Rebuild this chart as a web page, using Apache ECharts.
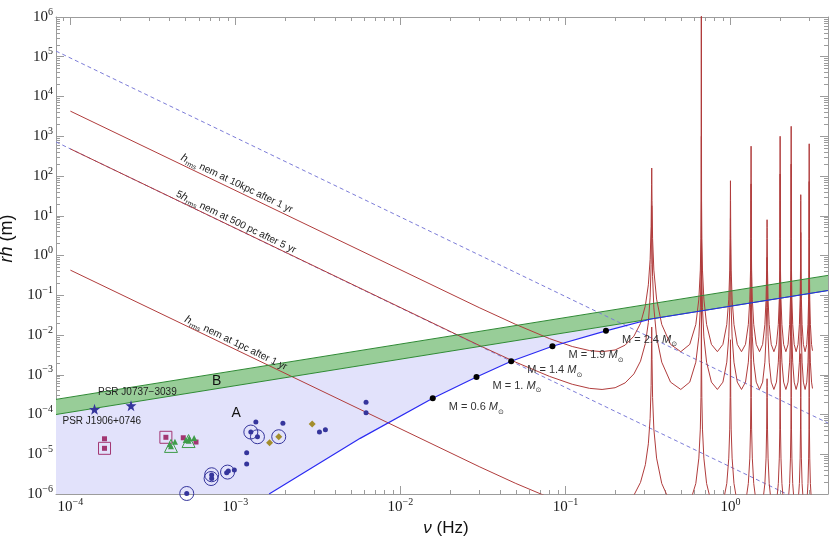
<!DOCTYPE html>
<html><head><meta charset="utf-8">
<script src="https://cdn.jsdelivr.net/npm/echarts@6/dist/echarts.min.js"></script>
<style>html,body{margin:0;padding:0;background:#fff}#c{width:830px;height:539px}</style>
</head><body><div id="c"></div>
<script>
// ---------- axis ranges & ticks ----------
const X_MIN = 8.18e-5, X_MAX = 3.9, Y_MIN = 1e-6, Y_MAX = 1e6;
const xMajor = [1e-4, 1e-3, 1e-2, 1e-1, 1];
const yMajor = [1e-6, 1e-5, 1e-4, 1e-3, 1e-2, 1e-1, 1, 10, 100, 1e3, 1e4, 1e5, 1e6];
const xMinor = [];
for (let k = -5; k <= 0; k++) for (let m = 2; m <= 9; m++) { const v = m * Math.pow(10, k); if (v > X_MIN && v < X_MAX) xMinor.push(v); }
const yMinor = [];
for (let k = -6; k < 6; k++) for (let m = 2; m <= 9; m++) yMinor.push(m * Math.pow(10, k));

// ---------- green band (B) edges ----------
const bandF = [8.18e-5, 3.9];
const bandLow = [1.0e-4, 0.1315];
const bandHigh = [2.4e-4, 0.316];

// ---------- blue boundary curve of region A ----------
const blueF = [1.6e-3, 5.70e-3, 1.57e-2, 2.89e-2, 4.69e-2, 8.34e-2, 0.176, 0.33, 3.9];
const blueRh = [1.0e-6, 2.51e-5, 2.56e-4, 8.81e-4, 2.19e-3, 5.22e-3, 1.27e-2, 2.53e-2, 0.1315];

// ---------- mass points on blue curve ----------
const massF = [1.57e-2, 2.89e-2, 4.69e-2, 8.34e-2, 0.176];
const massRh = [2.56e-4, 8.81e-4, 2.19e-3, 5.22e-3, 1.27e-2];
const massLabels = ['0.6', '1.', '1.4', '1.9', '2.4'];

// ---------- dashed blue lines ----------
const dash1F = [8.18e-5, 3.9], dash1Rh = [1.39e5, 6.1e-5];
const dash2F = [8.18e-5, 3.9], dash2Rh = [719, 3.16e-7];

// ---------- red sensitivity curves ----------
const redF = [
  1e-4, 0.03, 0.05, 0.08, 0.11, 0.14, 0.16667, 0.20, 0.23, 0.26, 0.285, 0.305, 0.318, 0.326, 0.3305, 0.3325, 0.333333,
  0.334667, 0.337333, 0.343333, 0.356667, 0.383333, 0.433333, 0.5, 0.566667, 0.616667, 0.643333, 0.656667, 0.662667, 0.665333, 0.666667,
  0.668, 0.670667, 0.676667, 0.69, 0.716667, 0.766667, 0.833333, 0.9, 0.95, 0.976667, 0.99, 0.996, 0.998667, 1.0,
  1.001333, 1.004, 1.01, 1.023333, 1.05, 1.1, 1.166667, 1.233333, 1.283333, 1.31, 1.323333, 1.329333, 1.332, 1.333333,
  1.334667, 1.337333, 1.343333, 1.356667, 1.383333, 1.433333, 1.5, 1.566667, 1.616667, 1.643333, 1.656667, 1.662667, 1.665333, 1.666667,
  1.668, 1.670667, 1.676667, 1.69, 1.716667, 1.766667, 1.833333, 1.9, 1.95, 1.976667, 1.99, 1.996, 1.998667, 2.0,
  2.001333, 2.004, 2.01, 2.023333, 2.05, 2.1, 2.166667, 2.233333, 2.283333, 2.31, 2.323333, 2.329333, 2.332, 2.333333,
  2.334667, 2.337333, 2.343333, 2.356667, 2.383333, 2.433333, 2.5, 2.566667, 2.616667, 2.643333, 2.656667, 2.662667, 2.665333, 2.666667,
  2.668, 2.670667, 2.676667, 2.69, 2.716667, 2.766667, 2.833333, 2.9, 2.95, 2.976667, 2.99, 2.996, 2.998667, 3.0,
  3.001333, 3.004, 3.01, 3.023333, 3.05, 3.1, 3.141593
];
// h_rms at 10 kpc after 1 yr
const red10kpc = [
  4281, 0.04887, 0.01845, 0.008115, 0.005131, 0.004053, 0.003802, 0.004204, 0.005558, 0.009359, 0.01960, 0.05461, 0.1830, 0.7970, 5.333, 61.63, 158.5,
  24.07, 2.677, 0.4293, 0.07989, 0.01845, 0.005808, 0.003802, 0.005808, 0.01845, 0.07989, 0.4293, 2.677, 24.07, 1e7,
  24.07, 2.677, 0.4293, 0.07989, 0.01845, 0.005808, 0.003802, 0.005808, 0.01845, 0.07989, 0.4293, 2.677, 24.07, 75.9,
  24.07, 2.677, 0.4293, 0.07989, 0.01845, 0.005808, 0.003802, 0.005808, 0.01845, 0.07989, 0.4293, 2.677, 24.07, 562,
  24.07, 2.677, 0.4293, 0.07989, 0.01845, 0.005808, 0.003802, 0.005808, 0.01845, 0.07989, 0.4293, 2.677, 5.0, 7.94,
  5.0, 2.677, 0.4293, 0.07989, 0.01845, 0.005808, 0.003802, 0.005808, 0.01845, 0.07989, 0.4293, 2.677, 24.07, 1000,
  24.07, 2.677, 0.4293, 0.07989, 0.01845, 0.005808, 0.003802, 0.005808, 0.01845, 0.07989, 0.4293, 2.677, 24.07, 1778,
  24.07, 2.677, 0.4293, 0.07989, 0.01845, 0.005808, 0.003802, 0.005808, 0.01845, 0.07989, 0.4293, 2.677, 24.07, 33.9,
  24.07, 2.677, 0.4293, 0.07989, 0.01845, 0.005808, 0.003802, 0.005808, 0.01845, 0.07989, 0.4293, 2.677, 24.07, 646,
  24.07, 2.677, 0.4293, 0.07989, 0.01845, 0.005808, 0.004021
];
// 5 h_rms at 500 pc after 5 yr
const red500pc = [
  480.4, 0.005482, 0.002070, 9.104e-4, 5.756e-4, 4.546e-4, 4.266e-4, 4.716e-4, 6.236e-4, 0.001050, 0.002199, 0.006127, 0.02053, 0.08943, 0.5983, 6.915, 17.78,
  2.702, 0.3003, 0.04817, 0.008964, 0.002070, 6.518e-4, 4.266e-4, 6.518e-4, 0.002070, 0.008964, 0.04817, 0.3003, 2.702, 1.12e6,
  2.702, 0.3003, 0.04817, 0.008964, 0.002070, 6.518e-4, 4.266e-4, 6.518e-4, 0.002070, 0.008964, 0.04817, 0.3003, 2.702, 8.51,
  2.702, 0.3003, 0.04817, 0.008964, 0.002070, 6.518e-4, 4.266e-4, 6.518e-4, 0.002070, 0.008964, 0.04817, 0.3003, 2.702, 63.1,
  2.702, 0.3003, 0.04817, 0.008964, 0.002070, 6.518e-4, 4.266e-4, 6.518e-4, 0.002070, 0.008964, 0.04817, 0.3003, 0.56, 0.891,
  0.56, 0.3003, 0.04817, 0.008964, 0.002070, 6.518e-4, 4.266e-4, 6.518e-4, 0.002070, 0.008964, 0.04817, 0.3003, 2.702, 112.2,
  2.702, 0.3003, 0.04817, 0.008964, 0.002070, 6.518e-4, 4.266e-4, 6.518e-4, 0.002070, 0.008964, 0.04817, 0.3003, 2.702, 199.5,
  2.702, 0.3003, 0.04817, 0.008964, 0.002070, 6.518e-4, 4.266e-4, 6.518e-4, 0.002070, 0.008964, 0.04817, 0.3003, 2.702, 3.80,
  2.702, 0.3003, 0.04817, 0.008964, 0.002070, 6.518e-4, 4.266e-4, 6.518e-4, 0.002070, 0.008964, 0.04817, 0.3003, 2.702, 72.4,
  2.702, 0.3003, 0.04817, 0.008964, 0.002070, 6.518e-4, 4.510e-4
];
// h_rms at 1 pc after 1 yr
const red1pc = [
  0.4281, 4.887e-6, 1.845e-6, 8.115e-7, 5.131e-7, 4.053e-7, 3.802e-7, 4.204e-7, 5.558e-7, 9.359e-7, 1.960e-6, 5.461e-6, 1.830e-5, 7.970e-5, 5.333e-4, 6.163e-3, 0.01585,
  2.407e-3, 2.677e-4, 4.293e-5, 7.989e-6, 1.845e-6, 5.808e-7, 3.802e-7, 5.808e-7, 1.845e-6, 7.989e-6, 4.293e-5, 2.677e-4, 2.407e-3, 1000,
  2.407e-3, 2.677e-4, 4.293e-5, 7.989e-6, 1.845e-6, 5.808e-7, 3.802e-7, 5.808e-7, 1.845e-6, 7.989e-6, 4.293e-5, 2.677e-4, 2.407e-3, 0.00759,
  2.407e-3, 2.677e-4, 4.293e-5, 7.989e-6, 1.845e-6, 5.808e-7, 3.802e-7, 5.808e-7, 1.845e-6, 7.989e-6, 4.293e-5, 2.677e-4, 2.407e-3, 0.0562,
  2.407e-3, 2.677e-4, 4.293e-5, 7.989e-6, 1.845e-6, 5.808e-7, 3.802e-7, 5.808e-7, 1.845e-6, 7.989e-6, 4.293e-5, 2.677e-4, 5.0e-4, 7.94e-4,
  5.0e-4, 2.677e-4, 4.293e-5, 7.989e-6, 1.845e-6, 5.808e-7, 3.802e-7, 5.808e-7, 1.845e-6, 7.989e-6, 4.293e-5, 2.677e-4, 2.407e-3, 0.1,
  2.407e-3, 2.677e-4, 4.293e-5, 7.989e-6, 1.845e-6, 5.808e-7, 3.802e-7, 5.808e-7, 1.845e-6, 7.989e-6, 4.293e-5, 2.677e-4, 2.407e-3, 0.1778,
  2.407e-3, 2.677e-4, 4.293e-5, 7.989e-6, 1.845e-6, 5.808e-7, 3.802e-7, 5.808e-7, 1.845e-6, 7.989e-6, 4.293e-5, 2.677e-4, 2.407e-3, 3.39e-3,
  2.407e-3, 2.677e-4, 4.293e-5, 7.989e-6, 1.845e-6, 5.808e-7, 3.802e-7, 5.808e-7, 1.845e-6, 7.989e-6, 4.293e-5, 2.677e-4, 2.407e-3, 0.0646,
  2.407e-3, 2.677e-4, 4.293e-5, 7.989e-6, 1.845e-6, 5.808e-7, 4.021e-7
];

// ---------- observed systems ----------
const psrF = [1.40e-4, 2.33e-4];
const psrRh = [1.35e-4, 1.67e-4];
const psrNames = ['PSR J1906+0746', 'PSR J0737\u22123039'];

const dotF = [5.07e-4, 7.18e-4, 7.18e-4, 8.85e-4, 9.06e-4, 9.85e-4, 1.17e-3, 1.17e-3, 1.24e-3, 1.33e-3, 1.36e-3, 1.94e-3, 3.23e-3, 3.51e-3, 6.19e-3, 6.19e-3];
const dotRh = [1.03e-6, 2.99e-6, 2.47e-6, 3.42e-6, 3.77e-6, 4.0e-6, 1.09e-5, 5.66e-6, 3.62e-5, 6.47e-5, 2.76e-5, 6.0e-5, 3.62e-5, 4.14e-5, 2.03e-4, 1.11e-4];

const circF = [5.07e-4, 7.18e-4, 7.12e-4, 8.96e-4, 1.24e-3, 1.36e-3, 1.83e-3];
const circRh = [1.03e-6, 3.05e-6, 2.45e-6, 3.56e-6, 3.62e-5, 2.76e-5, 2.76e-5];

const sqF = [1.61e-4, 1.61e-4, 3.79e-4, 4.83e-4, 5.77e-4];
const sqRh = [2.45e-5, 1.41e-5, 2.67e-5, 2.6e-5, 2.03e-5];
const frameSqF = [1.61e-4, 3.79e-4];
const frameSqRh = [1.41e-5, 2.67e-5];

const triF = [4.0e-4, 4.07e-4, 4.3e-4, 5.0e-4, 5.2e-4, 5.24e-4, 5.62e-4];
const triRh = [1.78e-5, 1.6e-5, 2.07e-5, 2.29e-5, 2.2e-5, 2.5e-5, 2.57e-5];
const openTriF = [4.07e-4, 5.2e-4];
const openTriRh = [1.62e-5, 2.15e-5];

const diaF = [1.61e-3, 1.83e-3, 2.92e-3];
const diaRh = [1.95e-5, 2.76e-5, 5.76e-5];

// ---------- text annotations ----------
const regionNames = ['A', 'B'];
const regionF = [1.01e-3, 7.7e-4];
const regionRh = [1.07e-4, 6.98e-4];

const curveLabels = [
  '{i|h}{s|rms}{t| nem at 10kpc after 1 yr}',
  '{t|5}{i|h}{s|rms}{t| nem at 500 pc after 5 yr}',
  '{i|h}{s|rms}{t| nem at 1pc after 1 yr}'
];
const curveLabelF = [1.02e-3, 1.008e-3, 1.008e-3];
const curveLabelRh = [64.0, 6.90, 6.22e-3];

// ---------- helpers ----------
const zip = (a, b) => a.map((v, i) => [v, b[i]]);
const frame = '#9c9c9c';
const SERIF = '"Liberation Serif", "DejaVu Serif", serif';
const SANS = '"Liberation Sans", Arial, sans-serif';
const pow10 = v => {
  const e = Math.round(Math.log10(v));
  return '{b|10}{s|' + (e < 0 ? '\u2212' + (-e) : String(e)) + '}';
};
const tickRich = {
  b: { fontFamily: SERIF, fontSize: 15, color: '#1a1a1a', lineHeight: 20, verticalAlign: 'middle' },
  s: { fontFamily: SERIF, fontSize: 10, color: '#1a1a1a', lineHeight: 12, verticalAlign: 'top' }
};
function mkAxis(kind, pos, ticks, len, showLine, showLabel, extra) {
  const ax = {
    type: 'log', logBase: 10, position: pos,
    min: kind === 'x' ? X_MIN : Y_MIN, max: kind === 'x' ? X_MAX : Y_MAX,
    axisLine: { show: showLine, onZero: false, lineStyle: { color: frame, width: 1 } },
    axisTick: { show: true, inside: true, length: len, customValues: ticks, lineStyle: { color: frame, width: 1 } },
    axisLabel: { show: showLabel, customValues: ticks, margin: 3, formatter: pow10, rich: tickRich, showMinLabel: true, showMaxLabel: true },
    splitLine: { show: false }, minorTick: { show: false }, minorSplitLine: { show: false },
    axisPointer: { show: false }, silent: true
  };
  return Object.assign(ax, extra || {});
}

function lineSeries(data, color, width, type, z) {
  return {
    type: 'line', data, xAxisIndex: 0, yAxisIndex: 0, showSymbol: false, symbol: 'none',
    lineStyle: { color, width, type }, clip: true, silent: true, z, animation: false,
    emphasis: { disabled: true }
  };
}
function polygonSeries(points, fill, z) {
  return {
    type: 'custom', xAxisIndex: 0, yAxisIndex: 0, data: points, silent: true, z, clip: true, animation: false,
    renderItem: (params, api) => {
      if (params.dataIndex !== 0) return null;
      return { type: 'polygon', shape: { points: points.map(p => api.coord(p)) }, style: { fill, stroke: 'none' } };
    }
  };
}
function scatterSeries(data, symbol, size, fill, stroke, z, extra) {
  return Object.assign({
    type: 'scatter', data, xAxisIndex: 0, yAxisIndex: 0, symbol, symbolSize: size, silent: true, z, animation: false,
    itemStyle: { color: fill, borderColor: stroke || fill, borderWidth: stroke ? 1 : 0, opacity: 1 },
    emphasis: { disabled: true }
  }, extra || {});
}

// polygons built from the boundary arrays
const regionA = [[X_MIN, Y_MIN], [bandF[0], bandLow[0]]];
for (let i = blueF.length - 2; i >= 0; i--) regionA.push([blueF[i], blueRh[i]]);
const bandPoly = [[bandF[0], bandLow[0]], [bandF[1], bandLow[1]], [bandF[1], bandHigh[1]], [bandF[0], bandHigh[0]]];

const STAR = 'path://M0,-10 L2.35,-3.24 L9.51,-3.09 L3.8,1.24 L5.88,8.09 L0,4 L-5.88,8.09 L-3.8,1.24 L-9.51,-3.09 L-2.35,-3.24 Z';
const navy = '#35359c', magenta = '#a23672', green = '#3f9c4a', gold = '#a38d2c', red = '#b03c3c';

const option = {
  animation: false,
  backgroundColor: '#ffffff',
  grid: { left: 56, right: 2, top: 17, bottom: 45, containLabel: false, outerBoundsMode: 'none' },
  xAxis: [
    mkAxis('x', 'bottom', xMajor, 8, true, true, {
      name: '{i|\u03bd} (Hz)', nameLocation: 'middle', nameGap: 21,
      nameTextStyle: { fontFamily: SANS, fontSize: 17, color: '#111', verticalAlign: 'top', padding: [0, 0, 0, 8],
        rich: { i: { fontFamily: SANS, fontSize: 17, fontStyle: 'italic', color: '#111' } } }
    }),
    mkAxis('x', 'bottom', xMinor, 4, false, false),
    mkAxis('x', 'top', xMajor, 8, true, false),
    mkAxis('x', 'top', xMinor, 4, false, false)
  ],
  yAxis: [
    mkAxis('y', 'left', yMajor, 8, true, true, {
      name: '{i|rh} (m)', nameLocation: 'middle', nameGap: 32, nameRotate: 90,
      nameTextStyle: { fontFamily: SANS, fontSize: 18, color: '#111', padding: [0, 0, 0, 34],
        rich: { i: { fontFamily: SANS, fontSize: 18, fontStyle: 'italic', color: '#111' } } }
    }),
    mkAxis('y', 'left', yMinor, 4, false, false),
    mkAxis('y', 'right', yMajor, 8, true, false),
    mkAxis('y', 'right', yMinor, 4, false, false)
  ],
  series: [
    polygonSeries(regionA, '#e2e2fb', 1),
    polygonSeries(bandPoly, '#98cd98', 2),
    lineSeries(zip(dash1F, dash1Rh), '#7c7cd8', 1, [4, 3], 3),
    lineSeries(zip(dash2F, dash2Rh), '#7c7cd8', 1, [4, 3], 3),
    lineSeries(zip(redF, red10kpc), red, 1, 'solid', 4),
    lineSeries(zip(redF, red500pc), red, 1, 'solid', 4),
    lineSeries(zip(redF, red1pc), red, 1, 'solid', 4),
    lineSeries(zip(bandF, bandHigh), '#2f8a35', 1, 'solid', 5),
    lineSeries(zip(bandF, bandLow), '#2f8a35', 1, 'solid', 5),
    lineSeries(zip(blueF, blueRh), '#2a2af2', 1.2, 'solid', 6),
    scatterSeries(zip(dotF, dotRh), 'circle', 5, navy, null, 7),
    scatterSeries(zip(circF, circRh), 'circle', 14, 'rgba(0,0,0,0)', navy, 7),
    scatterSeries(zip(sqF, sqRh), 'rect', 5, magenta, null, 7),
    scatterSeries(zip(frameSqF, frameSqRh), 'rect', 12, 'rgba(0,0,0,0)', magenta, 7),
    scatterSeries(zip(triF, triRh), 'triangle', 6, green, null, 7),
    scatterSeries(zip(openTriF, openTriRh), 'triangle', 13, 'rgba(0,0,0,0)', green, 7),
    scatterSeries(zip(diaF, diaRh), 'diamond', 7, gold, null, 7),
    scatterSeries(psrF.map((f, i) => ({ value: [f, psrRh[i]], name: psrNames[i],
        label: { offset: i === 0 ? [-32, 12] : [-33, -13] } })), STAR, 11, navy, null, 8, {
      label: { show: true, position: 'inside', align: 'left', verticalAlign: 'middle', formatter: '{b}',
        fontFamily: SANS, fontSize: 10, color: '#222' }
    }),
    scatterSeries(massF.map((f, i) => ({ value: [f, massRh[i]], name: massLabels[i] })), 'circle', 6, '#000', null, 8, {
      label: { show: true, position: 'inside', align: 'left', verticalAlign: 'middle', offset: [16, 9],
        formatter: p => '{t|M = ' + p.name + ' }{i|M}{s|\u2299}',
        rich: {
          t: { fontFamily: SANS, fontSize: 11, color: '#333', lineHeight: 16 },
          i: { fontFamily: SANS, fontSize: 11, fontStyle: 'italic', color: '#333', lineHeight: 16 },
          s: { fontFamily: 'DejaVu Sans', fontSize: 7, color: '#333', lineHeight: 8, verticalAlign: 'bottom' }
        } }
    }),
    scatterSeries(regionF.map((f, i) => ({ value: [f, regionRh[i]], name: regionNames[i] })), 'circle', 0, 'rgba(0,0,0,0)', null, 9, {
      label: { show: true, position: 'inside', formatter: '{b}', fontFamily: SANS, fontSize: 14, color: '#111' }
    }),
    scatterSeries(curveLabelF.map((f, i) => ({ value: [f, curveLabelRh[i]], name: String(i) })), 'circle', 0, 'rgba(0,0,0,0)', null, 9, {
      label: { show: true, position: 'inside', rotate: -25.7, align: 'center', verticalAlign: 'middle',
        formatter: p => curveLabels[p.dataIndex],
        rich: {
          t: { fontFamily: SANS, fontSize: 10, color: '#222', lineHeight: 14 },
          i: { fontFamily: SANS, fontSize: 11, fontStyle: 'italic', color: '#222', lineHeight: 14 },
          s: { fontFamily: SANS, fontSize: 7, color: '#222', lineHeight: 8, verticalAlign: 'bottom' }
        } }
    })
  ]
};
const chart = echarts.init(document.getElementById('c'), null, { renderer: 'canvas' });
chart.setOption(option);
</script></body></html>
